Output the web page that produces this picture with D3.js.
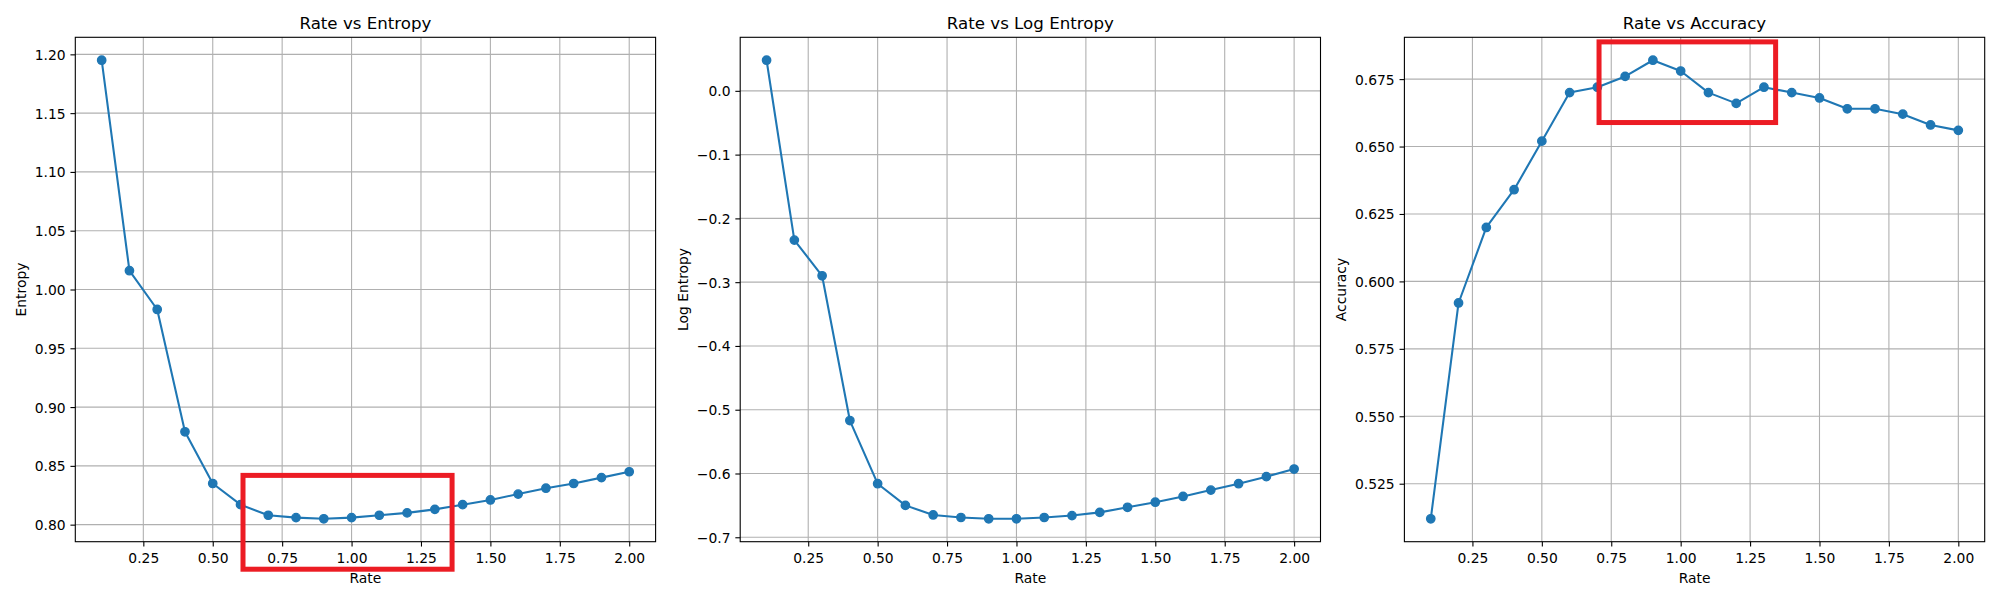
<!DOCTYPE html>
<html>
<head>
<meta charset="utf-8">
<script src="https://cdn.jsdelivr.net/npm/d3@7"></script>
<style>
  html, body { margin: 0; padding: 0; background: #fff; }
  svg { display: block; font-family: "DejaVu Sans", sans-serif; }
</style>
</head>
<body>
<svg id="chart" width="2000" height="600"></svg>
<script>
// ---------- data ----------
const rates = [0.1, 0.2, 0.3, 0.4, 0.5, 0.6, 0.7, 0.8, 0.9, 1.0,
               1.1, 1.2, 1.3, 1.4, 1.5, 1.6, 1.7, 1.8, 1.9, 2.0];
const entropy = [1.195, 1.016, 0.983, 0.879, 0.835, 0.817, 0.808, 0.806, 0.805, 0.806,
                 0.808, 0.810, 0.813, 0.817, 0.821, 0.826, 0.831, 0.835, 0.840, 0.845];
const logEntropy = [0.048, -0.234, -0.290, -0.517, -0.616, -0.650, -0.665, -0.669, -0.671, -0.671,
                    -0.669, -0.666, -0.661, -0.653, -0.645, -0.636, -0.626, -0.616, -0.605, -0.593];
const accuracy = [0.512, 0.592, 0.620, 0.634, 0.652, 0.670, 0.672, 0.676, 0.682, 0.678,
                  0.670, 0.666, 0.672, 0.670, 0.668, 0.664, 0.664, 0.662, 0.658, 0.656];

const xTicks = [0.25, 0.50, 0.75, 1.00, 1.25, 1.50, 1.75, 2.00];
const entropyTicks = [0.80, 0.85, 0.90, 0.95, 1.00, 1.05, 1.10, 1.15, 1.20];
const logEntropyTicks = [-0.7, -0.6, -0.5, -0.4, -0.3, -0.2, -0.1, 0.0];
const accuracyTicks = [0.525, 0.550, 0.575, 0.600, 0.625, 0.650, 0.675];

const titles = ["Rate vs Entropy", "Rate vs Log Entropy", "Rate vs Accuracy"];
const yLabels = ["Entropy", "Log Entropy", "Accuracy"];
const xLabel = "Rate";

// highlight boxes (data coordinates): [x0, x1, y0, y1]; null = none
const highlights = [[0.609, 1.362, 0.7621, 0.8419], null, [0.706, 1.342, 0.6589, 0.6888]];

const panels = [
  { y: entropy, ticks: entropyTicks, decimals: 2 },
  { y: logEntropy, ticks: logEntropyTicks, decimals: 1 },
  { y: accuracy, ticks: accuracyTicks, decimals: 3 }
];

// ---------- layout ----------
const lefts = [75.3, 740.2, 1404.4];
const axW = 580.3, axTop = 37.3, axBottom = 541.7;
const fontSize = 13.89, titleSize = 16.67;
const tickLen = 4.86, tickPad = 4.86;
const lineColor = "#1f77b4", gridColor = "#b0b0b0", red = "#ec1c24";

const svg = d3.select("#chart");
const fmtNum = (d, n) => d3.format("." + n + "f")(d).replace("-", "\u2212");

function margins(arr) {
  const [lo, hi] = d3.extent(arr);
  const m = (hi - lo) * 0.05;
  return [lo - m, hi + m];
}

panels.forEach((p, i) => {
  const L = lefts[i], R = L + axW;
  const x = d3.scaleLinear().domain(margins(rates)).range([L, R]);
  const y = d3.scaleLinear().domain(margins(p.y)).range([axBottom, axTop]);
  const g = svg.append("g");

  // grid
  g.append("g").selectAll("line").data(xTicks).join("line")
    .attr("x1", d => x(d)).attr("x2", d => x(d)).attr("y1", axTop).attr("y2", axBottom)
    .attr("stroke", gridColor).attr("stroke-width", 1.1);
  g.append("g").selectAll("line").data(p.ticks).join("line")
    .attr("y1", d => y(d)).attr("y2", d => y(d)).attr("x1", L).attr("x2", R)
    .attr("stroke", gridColor).attr("stroke-width", 1.1);

  // axes via d3
  const xAxis = d3.axisBottom(x).tickValues(xTicks).tickFormat(d => fmtNum(d, 2))
    .tickSizeInner(tickLen).tickSizeOuter(0).tickPadding(tickPad);
  const yAxis = d3.axisLeft(y).tickValues(p.ticks).tickFormat(d => fmtNum(d, p.decimals))
    .tickSizeInner(tickLen).tickSizeOuter(0).tickPadding(tickPad);
  const gx = g.append("g").attr("transform", `translate(0,${axBottom})`).call(xAxis);
  const gy = g.append("g").attr("transform", `translate(${L},0)`).call(yAxis);
  [gx, gy].forEach(a => {
    a.select(".domain").remove();
    a.selectAll(".tick line").attr("stroke", "#000").attr("stroke-width", 1.1);
    a.selectAll(".tick text").attr("fill", "#000").attr("font-size", fontSize)
      .attr("font-family", "DejaVu Sans");
  });
  gx.selectAll(".tick text").attr("y", 563.5 - axBottom).attr("dy", 0);
  gy.selectAll(".tick text").attr("dy", "0.36em");

  // line + markers
  const pts = rates.map((r, k) => [r, p.y[k]]);
  g.append("path").datum(pts)
    .attr("d", d3.line().x(d => x(d[0])).y(d => y(d[1])))
    .attr("fill", "none").attr("stroke", lineColor).attr("stroke-width", 2.08)
    .attr("stroke-linejoin", "round");
  g.append("g").selectAll("circle").data(pts).join("circle")
    .attr("cx", d => x(d[0])).attr("cy", d => y(d[1])).attr("r", 4.17)
    .attr("fill", lineColor).attr("stroke", lineColor).attr("stroke-width", 1.39);

  // spines
  g.append("rect").attr("x", L).attr("y", axTop).attr("width", axW).attr("height", axBottom - axTop)
    .attr("fill", "none").attr("stroke", "#000").attr("stroke-width", 1.1);

  // title
  g.append("text").attr("x", (L + R) / 2).attr("y", axTop - 8.33)
    .attr("text-anchor", "middle").attr("font-size", titleSize).attr("fill", "#000")
    .text(titles[i]);

  // x label
  g.append("text").attr("x", (L + R) / 2).attr("y", 583)
    .attr("text-anchor", "middle").attr("font-size", fontSize).attr("fill", "#000")
    .text(xLabel);

  // y label
  let maxW = 0;
  gy.selectAll(".tick text").each(function() { maxW = Math.max(maxW, this.getComputedTextLength()); });
  const yl = L - tickLen - tickPad - maxW - 5.56 - 3.3;
  g.append("text").attr("transform", `translate(${yl},${(axTop + axBottom) / 2}) rotate(-90)`)
    .attr("text-anchor", "middle").attr("font-size", fontSize).attr("fill", "#000")
    .text(yLabels[i]);

  // highlight box
  const h = highlights[i];
  if (h) {
    g.append("rect")
      .attr("x", x(h[0])).attr("width", x(h[1]) - x(h[0]))
      .attr("y", y(h[3])).attr("height", y(h[2]) - y(h[3]))
      .attr("fill", "none").attr("stroke", red).attr("stroke-width", 5);
  }
});
</script>
</body>
</html>
